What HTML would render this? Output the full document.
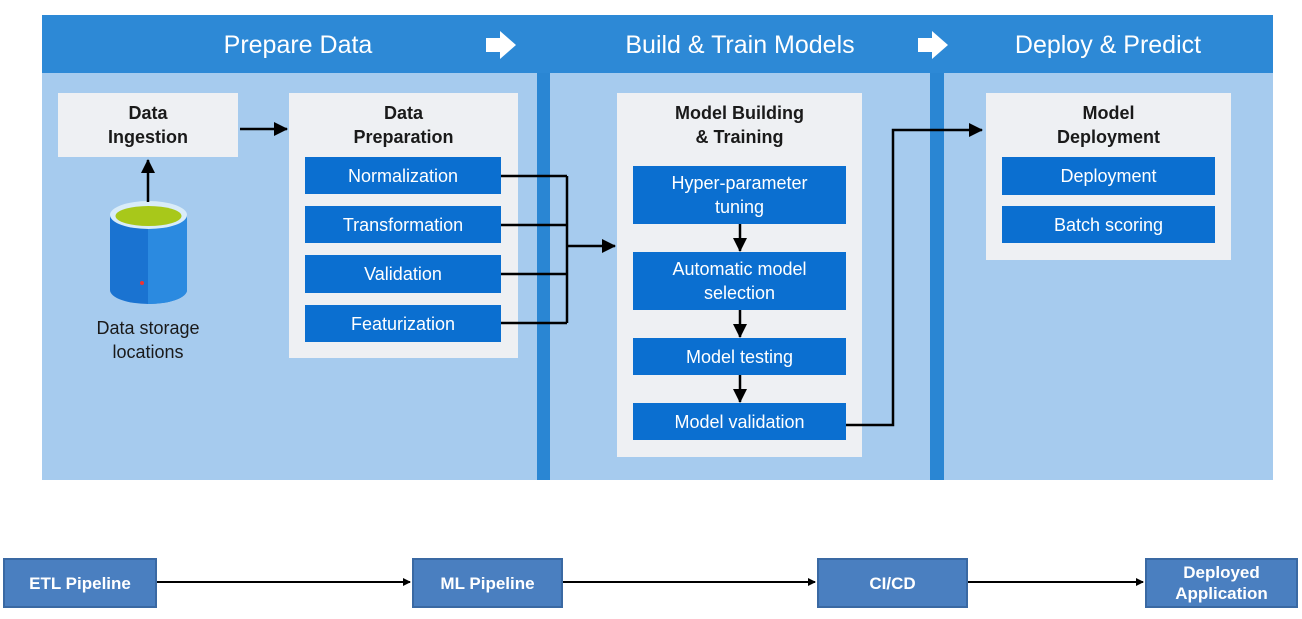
<!DOCTYPE html>
<html><head><meta charset="utf-8"><style>
body{margin:0;width:1302px;height:619px;background:#fff;position:relative;overflow:hidden;font-family:"Liberation Sans",sans-serif}
.a{position:absolute;box-sizing:border-box}
.hdr{background:#2d89d6}
.pnl{background:#a6cbee}
.div{background:#2a86d3}
.wb{background:#eef0f3;color:#1a1a1a;font-weight:bold;font-size:18px;text-align:center;line-height:24px}
.bb{background:#0b6fd0;color:#fff;font-size:18px;text-align:center;display:flex;align-items:center;justify-content:center;line-height:24px}
.ht{color:#fff;font-size:25px;top:28px;line-height:34px;text-align:center}
.gb{background:#4a7fc0;border:2px solid #3a69a3;color:#fff;font-weight:bold;font-size:17px;display:flex;align-items:center;justify-content:center;text-align:center;line-height:21px}
</style></head><body>
<div class="a hdr" style="left:42px;top:15px;width:1231px;height:58px"></div>
<div class="a pnl" style="left:42px;top:73px;width:495px;height:407px"></div>
<div class="a div" style="left:537px;top:73px;width:13px;height:407px"></div>
<div class="a pnl" style="left:550px;top:73px;width:380px;height:407px"></div>
<div class="a div" style="left:930px;top:73px;width:14px;height:407px"></div>
<div class="a pnl" style="left:944px;top:73px;width:329px;height:407px"></div>

<div class="a ht" style="left:178px;width:240px">Prepare Data</div>
<div class="a ht" style="left:590px;width:300px">Build &amp; Train Models</div>
<div class="a ht" style="left:980px;width:256px">Deploy &amp; Predict</div>
<svg class="a" style="left:0;top:0" width="1302" height="619">
<polygon points="486,38 500,38 500,31 516,45 500,59 500,52 486,52" fill="#fff"/>
<polygon points="918,38 932,38 932,31 948,45 932,59 932,52 918,52" fill="#fff"/>
</svg>

<div class="a wb" style="left:58px;top:93px;width:180px;height:64px;padding-top:8px">Data<br>Ingestion</div>
<div class="a wb" style="left:289px;top:93px;width:229px;height:265px;padding-top:8px">Data<br>Preparation</div>
<div class="a bb" style="left:305px;top:157px;width:196px;height:37px">Normalization</div>
<div class="a bb" style="left:305px;top:206px;width:196px;height:37px">Transformation</div>
<div class="a bb" style="left:305px;top:255px;width:196px;height:38px">Validation</div>
<div class="a bb" style="left:305px;top:305px;width:196px;height:37px">Featurization</div>

<div class="a wb" style="left:617px;top:93px;width:245px;height:364px;padding-top:8px">Model Building<br>&amp; Training</div>
<div class="a bb" style="left:633px;top:166px;width:213px;height:58px">Hyper-parameter<br>tuning</div>
<div class="a bb" style="left:633px;top:252px;width:213px;height:58px">Automatic model<br>selection</div>
<div class="a bb" style="left:633px;top:338px;width:213px;height:37px">Model testing</div>
<div class="a bb" style="left:633px;top:403px;width:213px;height:37px">Model validation</div>

<div class="a wb" style="left:986px;top:93px;width:245px;height:167px;padding-top:8px">Model<br>Deployment</div>
<div class="a bb" style="left:1002px;top:157px;width:213px;height:38px">Deployment</div>
<div class="a bb" style="left:1002px;top:206px;width:213px;height:37px">Batch scoring</div>

<div class="a" style="left:70px;top:316px;width:156px;text-align:center;font-size:18px;line-height:24px;color:#1a1a1a">Data storage<br>locations</div>

<svg class="a" style="left:0;top:0" width="1302" height="619">
<defs><marker id="m" markerWidth="8" markerHeight="8" refX="7" refY="4" orient="auto" markerUnits="userSpaceOnUse"><path d="M0,0 L8,4 L0,8z" fill="#000"/></marker>
<marker id="M" markerWidth="14" markerHeight="14" refX="13" refY="7" orient="auto" markerUnits="userSpaceOnUse"><path d="M0,0 L14,7 L0,14z" fill="#000"/></marker></defs>
<!-- cylinder -->
<path d="M110,215 L110,290 A38.5,14 0 0 0 187,290 L187,215 Z" fill="#1a73d1"/>
<path d="M148,215 L148,304 A38.5,14 0 0 0 187,290 L187,215 Z" fill="#2b8ae0"/>
<ellipse cx="148.5" cy="215" rx="38.5" ry="14" fill="#d9ecf8"/>
<ellipse cx="148.5" cy="216" rx="33" ry="10" fill="#a8c81a"/>
<circle cx="142" cy="283" r="2" fill="#e33"/>
<g stroke="#000" stroke-width="2.5" fill="none">
<line x1="148" y1="202" x2="148" y2="160" marker-end="url(#M)"/>
<line x1="240" y1="129" x2="287" y2="129" marker-end="url(#M)"/>
<path d="M501,176 H567 M501,225 H567 M501,274 H567 M501,323 H567 M567,176 V323"/>
<line x1="567" y1="246" x2="615" y2="246" marker-end="url(#M)"/>
<line x1="740" y1="224" x2="740" y2="251" marker-end="url(#M)"/>
<line x1="740" y1="310" x2="740" y2="337" marker-end="url(#M)"/>
<line x1="740" y1="375" x2="740" y2="402" marker-end="url(#M)"/>
<path d="M846,425 H893 V130 H982" marker-end="url(#M)"/>
</g>
<g stroke="#000" stroke-width="2" fill="none">
<line x1="157" y1="582" x2="410" y2="582" marker-end="url(#m)"/>
<line x1="563" y1="582" x2="815" y2="582" marker-end="url(#m)"/>
<line x1="968" y1="582" x2="1143" y2="582" marker-end="url(#m)"/>
</g>
</svg>

<div class="a gb" style="left:3px;top:558px;width:154px;height:50px">ETL Pipeline</div>
<div class="a gb" style="left:412px;top:558px;width:151px;height:50px">ML Pipeline</div>
<div class="a gb" style="left:817px;top:558px;width:151px;height:50px">CI/CD</div>
<div class="a gb" style="left:1145px;top:558px;width:153px;height:50px">Deployed<br>Application</div>
</body></html>
